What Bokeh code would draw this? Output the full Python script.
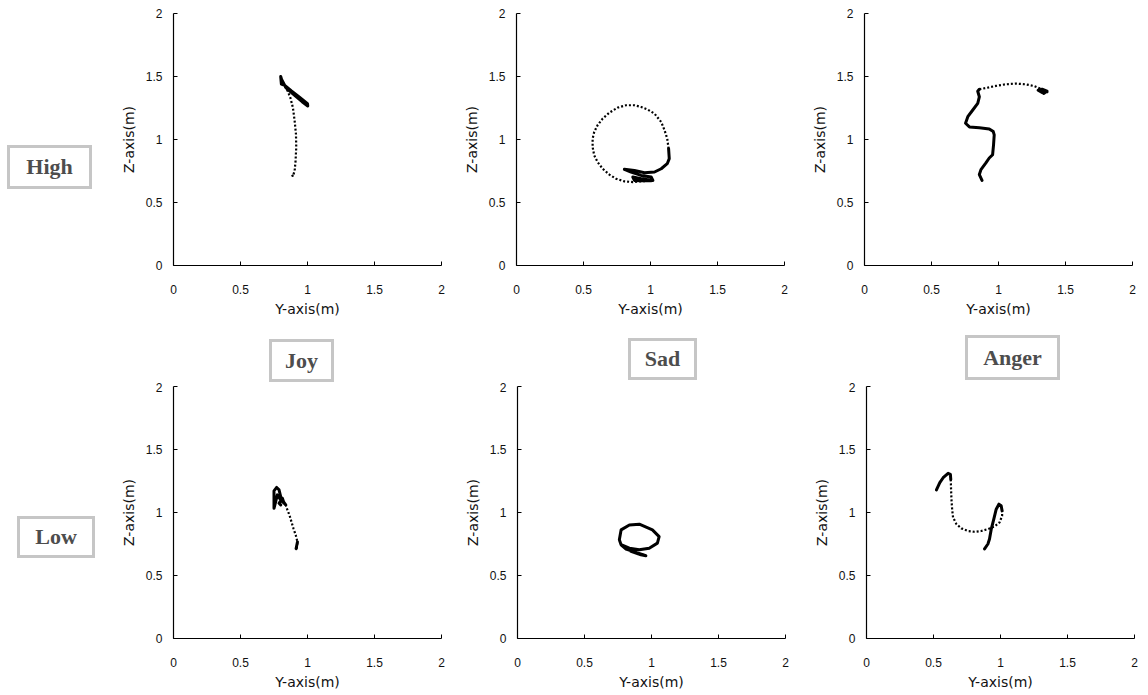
from bokeh.plotting import figure
from bokeh.models import Range1d, FixedTicker, Spacer, Div
from bokeh.layouts import row, column
from bokeh.embed import file_html
from bokeh.resources import INLINE

NaN = float("nan")

# ---------------- data ----------------
emotions = ["Joy", "Sad", "Anger"]
levels = ["High", "Low"]
tick_values = [0, 0.5, 1, 1.5, 2]
tick_labels = ["0", "0.5", "1", "1.5", "2"]
x_axis_label = "Y-axis(m)"
y_axis_label = "Z-axis(m)"

# Joy / High
joy_high_fast_y = [0.885, 0.891, 0.904, 0.911, 0.916, 0.914, 0.904, 0.891, 0.872, 0.852, 0.830, 0.810]
joy_high_fast_z = [0.720, 0.707, 0.752, 0.831, 0.937, 1.042, 1.148, 1.253, 1.332, 1.385, 1.425, 1.464]
joy_high_slow_y = [0.810, 0.800, 0.805, 0.830, 0.880, 0.940, 1.000, 1.002, 0.960, 0.900, 0.840, 0.805]
joy_high_slow_z = [1.464, 1.500, 1.440, 1.430, 1.385, 1.335, 1.285, 1.266, 1.300, 1.355, 1.410, 1.480]

# Sad / High
sad_high_fast_y = [1.135, 1.125, 1.105, 1.080, 1.030, 0.980, 0.930, 0.880, 0.818, 0.755, 0.693, 0.643, 0.605,
                   0.580, 0.568, 0.568, 0.580, 0.605, 0.643, 0.693, 0.743, 0.805, 0.868, 0.930, 1.005]
sad_high_fast_z = [0.927, 1.007, 1.073, 1.139, 1.205, 1.237, 1.258, 1.272, 1.272, 1.253, 1.213, 1.166, 1.113,
                   1.060, 1.007, 0.940, 0.874, 0.821, 0.768, 0.721, 0.689, 0.668, 0.662, 0.668, 0.673]
sad_high_slow_y = [1.135, 1.140, 1.125, 1.080, 1.030, 0.955, 0.880, 0.805, 0.855, 0.930, 1.005, 1.018, 0.930,
                   0.868, 0.880, 0.930, 1.005]
sad_high_slow_z = [0.927, 0.848, 0.808, 0.768, 0.742, 0.736, 0.755, 0.763, 0.742, 0.715, 0.702, 0.675, 0.689,
                   0.702, 0.675, 0.672, 0.673]

# Anger / High
anger_high_fast_y = [0.857, 0.906, 0.980, 1.054, 1.128, 1.202, 1.264, 1.313, 1.350]
anger_high_fast_z = [1.399, 1.409, 1.425, 1.438, 1.444, 1.438, 1.425, 1.404, 1.383]
anger_high_slow_y = [0.877, 0.857, 0.869, 0.906, 0.931, 0.956, 0.963, 0.968, 0.961, 0.931, 0.857, 0.783, 0.754,
                     0.771, 0.808, 0.845, 0.857, 0.845, 0.857, NaN,
                     1.350, 1.362, 1.325, 1.296, 1.325, 1.362, 1.337]
anger_high_slow_z = [0.675, 0.722, 0.761, 0.814, 0.853, 0.879, 0.958, 1.037, 1.063, 1.084, 1.094, 1.100, 1.129,
                     1.181, 1.234, 1.286, 1.339, 1.383, 1.399, NaN,
                     1.383, 1.378, 1.373, 1.391, 1.399, 1.383, 1.365]

# Joy / Low
joy_low_fast_y = [0.920, 0.925, 0.9125, 0.895, 0.880, 0.865, 0.850, 0.8375]
joy_low_fast_z = [0.713, 0.766, 0.820, 0.873, 0.927, 0.980, 1.020, 1.060]
joy_low_slow_y = [0.8375, 0.820, 0.800, 0.7875, 0.770, 0.750, 0.750, 0.750, 0.7625, 0.775, 0.800, 0.825,
                  0.8125, 0.7875, 0.800, NaN, 0.925, 0.920, 0.915]
joy_low_slow_z = [1.060, 1.087, 1.127, 1.180, 1.199, 1.172, 1.113, 1.033, 1.087, 1.140, 1.100, 1.073,
                  1.113, 1.073, 1.060, NaN, 0.766, 0.740, 0.713]

# Sad / Low
sad_low_fast_y = []
sad_low_fast_z = []
sad_low_slow_y = [0.760, 0.773, 0.835, 0.909, 1.007, 1.057, 1.044, 0.983, 0.909, 0.835, 0.773, 0.760, 0.773,
                  0.810, 0.884, 0.958, 0.921, 0.847, 0.896, 0.940]
sad_low_slow_z = [0.783, 0.862, 0.901, 0.907, 0.862, 0.809, 0.757, 0.717, 0.704, 0.717, 0.744, 0.783, 0.744,
                  0.710, 0.683, 0.657, 0.665, 0.691, 0.673, 0.665]

# Anger / Low
anger_low_fast_y = [0.629, 0.631, 0.634, 0.639, 0.646, 0.671, 0.708, 0.757, 0.807, 0.856, 0.906, 0.955, 0.993,
                    1.012, 1.012]
anger_low_fast_z = [1.263, 1.184, 1.105, 1.026, 0.961, 0.908, 0.874, 0.853, 0.847, 0.853, 0.868, 0.889, 0.921,
                    0.974, 1.013]
anger_low_slow_y = [0.522, 0.547, 0.572, 0.609, 0.626, 0.629, NaN,
                    1.012, 1.005, 0.988, 0.968, 0.950, 0.931, 0.918, 0.906, 0.881]
anger_low_slow_z = [1.179, 1.237, 1.276, 1.311, 1.303, 1.263, NaN,
                    1.013, 1.053, 1.066, 1.026, 0.947, 0.868, 0.789, 0.750, 0.711]

# ---------------- layout constants ----------------
FRAME = 268
FRAME_H = 252
LEFT = 60


def make_fig(fast_y, fast_z, slow_y, slow_z, right, top, bottom):
    p = figure(width=LEFT + FRAME + right, height=top + FRAME_H + bottom,
               x_range=Range1d(0, 2), y_range=Range1d(0, 2),
               output_backend="svg", toolbar_location=None,
               min_border_left=LEFT, min_border_right=right,
               min_border_top=top, min_border_bottom=bottom)
    p.outline_line_color = None
    p.grid.visible = False
    p.background_fill_color = "white"
    p.border_fill_color = "white"
    overrides = {float(v): l for v, l in zip(tick_values, tick_labels)}
    for ax in (p.xaxis[0], p.yaxis[0]):
        ax.ticker = FixedTicker(ticks=tick_values)
        ax.major_label_overrides = overrides
        ax.minor_tick_line_color = None
        ax.major_tick_in = 4
        ax.major_tick_out = 0
        ax.axis_line_color = "black"
        ax.axis_line_width = 1.2
        ax.major_tick_line_color = "black"
        ax.major_label_text_font = "Liberation Sans"
        ax.major_label_text_font_size = "12px"
        ax.major_label_text_color = "#111111"
        ax.axis_label_text_font = "DejaVu Sans"
        ax.axis_label_text_font_size = "14px"
        ax.axis_label_text_font_style = "normal"
        ax.axis_label_text_color = "#111111"
    p.xaxis.axis_label = x_axis_label
    p.yaxis.axis_label = y_axis_label
    p.xaxis.major_label_standoff = 19
    p.xaxis.axis_label_standoff = 4
    p.yaxis.major_label_standoff = 11
    p.yaxis.axis_label_standoff = 6
    if slow_y:
        p.line(slow_y, slow_z, line_width=3, color="black", line_join="round", line_cap="round")
    if fast_y:
        p.line(fast_y, fast_z, line_width=2.2, color="black", line_dash="2 2")
    return p


def box(text, w, h):
    html = ("<div style=\"box-sizing:border-box;width:%dpx;height:%dpx;border:3px solid #c6c6c6;"
            "display:flex;align-items:center;justify-content:center;background:white;"
            "font-family:'Liberation Serif',serif;font-weight:bold;font-size:22px;color:#4d4d4d;\">%s</div>"
            % (w, h, text))
    return Div(text=html, width=w, height=h, margin=0)


f1 = make_fig(joy_high_fast_y, joy_high_fast_z, joy_high_slow_y, joy_high_slow_z, 15, 13, 55)
f2 = make_fig(sad_high_fast_y, sad_high_fast_z, sad_high_slow_y, sad_high_slow_z, 20, 13, 55)
f3 = make_fig(anger_high_fast_y, anger_high_fast_z, anger_high_slow_y, anger_high_slow_z, 10, 13, 55)
f4 = make_fig(joy_low_fast_y, joy_low_fast_z, joy_low_slow_y, joy_low_slow_z, 16, 4, 55)
f5 = make_fig(sad_low_fast_y, sad_low_fast_z, sad_low_slow_y, sad_low_slow_z, 21, 4, 55)
f6 = make_fig(anger_low_fast_y, anger_low_fast_z, anger_low_slow_y, anger_low_slow_z, 8, 4, 55)

left_col = column(
    Spacer(width=113, height=145),
    row(Spacer(width=7, height=44), box(levels[0], 85, 44)),
    Spacer(width=113, height=327),
    row(Spacer(width=17, height=42), box(levels[1], 78, 42)),
)

label_row = row(
    Spacer(width=156, height=62),
    column(Spacer(width=65, height=19), box(emotions[0], 65, 43)),
    Spacer(width=294, height=10),
    column(Spacer(width=69, height=18), box(emotions[1], 69, 42)),
    Spacer(width=268, height=10),
    column(Spacer(width=95, height=15), box(emotions[2], 95, 45)),
)

main_col = column(row(f1, f2, f3), label_row, row(f4, f5, f6))
layout = row(left_col, main_col)

open("out.html", "w").write(file_html(layout, INLINE))
